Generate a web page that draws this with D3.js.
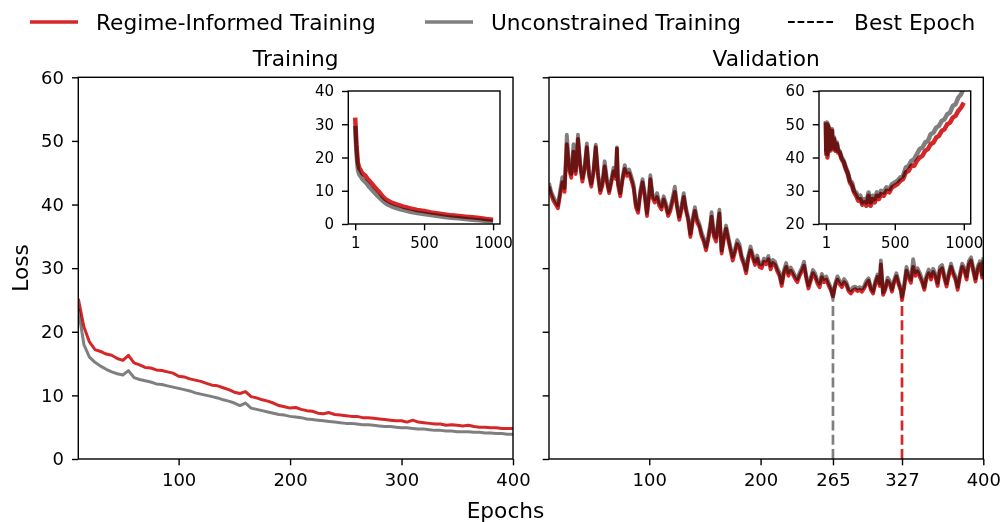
<!DOCTYPE html>
<html><head><meta charset="utf-8">
<script src="https://cdn.jsdelivr.net/npm/d3@7"></script>
<style>
html,body{margin:0;padding:0;background:#fff;}
svg{display:block;font-family:"DejaVu Sans",sans-serif;}
</style></head>
<body>
<svg id="c" width="1001" height="522"></svg>
<script>
// ---------- DATA ----------
const seriesNames = ["Regime-Informed Training", "Unconstrained Training", "Best Epoch"];
const panelTitles = ["Training", "Validation"];
const mainXTicks = [100, 200, 300, 400];
const valXTicks = [100, 200, 265, 327, 400];
const yTicks = [0, 10, 20, 30, 40, 50, 60];
const insetXTicks = [1, 500, 1000];
const insetTrainYTicks = [0, 10, 20, 30, 40];
const insetValYTicks = [20, 30, 40, 50, 60];
const bestEpochRegime = 327;
const bestEpochUncon = 265;

// training losses, epochs 10..400 every 5
const trainEpochs = d3.range(10, 401, 5);
const trainRegime = [25.2, 20.8, 18.4, 17.2, 16.9, 16.5, 16.3, 15.8, 15.5, 16.3,
  15.1, 14.8, 14.4, 14.3, 14.0, 13.9, 13.7, 13.5, 13.0, 12.9,
  12.6, 12.4, 12.2, 11.9, 11.6, 11.5, 11.2, 10.9, 10.5, 10.3,
  10.6, 9.8, 9.6, 9.3, 9.1, 8.8, 8.4, 8.2, 8.0, 8.1,
  7.8, 7.6, 7.5, 7.2, 7.1, 7.3, 7.0, 6.9, 6.8, 6.7,
  6.7, 6.5, 6.5, 6.4, 6.3, 6.2, 6.1, 6.0, 6.0, 5.8,
  6.1, 5.8, 5.7, 5.6, 5.5, 5.5, 5.3, 5.4, 5.3, 5.2,
  5.3, 5.1, 5.0, 5.0, 4.9, 4.9, 4.8, 4.8, 4.8];
const trainUncon = [23.6, 18.0, 16.0, 15.2, 14.6, 14.1, 13.7, 13.4, 13.2, 13.9,
  12.8, 12.5, 12.3, 12.1, 11.8, 11.7, 11.5, 11.3, 11.1, 10.9,
  10.7, 10.4, 10.2, 10.0, 9.8, 9.6, 9.3, 9.1, 8.8, 8.4,
  8.8, 8.0, 7.8, 7.6, 7.4, 7.2, 7.0, 6.9, 6.7, 6.6,
  6.5, 6.3, 6.2, 6.1, 6.0, 5.9, 5.8, 5.7, 5.6, 5.6,
  5.5, 5.4, 5.4, 5.3, 5.2, 5.1, 5.1, 5.0, 4.9, 4.9,
  4.8, 4.7, 4.7, 4.6, 4.5, 4.5, 4.4, 4.4, 4.3, 4.3,
  4.3, 4.2, 4.2, 4.1, 4.1, 4.0, 4.0, 3.9, 3.9];

// validation losses
const valEpochs = [10,12,14,16,18,20,22,24,26,28,30,32,34,36,38,40,42,44,46,48,50,52,54,56,58,60,62,64,66,68,70,71,72,74,76,78,80,82,84,86,88,90,92,94,96,98,100,101,103,105,107,109,111,113,115,117,119,121,123,125,127,129,131,133,135,137,139,141,143,145,147,149,151,153,155,156,158,160,162,163,165,167,169,171,173,175,177,179,181,183,185,187,189,191,193,195,197,199,201,203,205,207,209,211,213,215,217,219,221,223,225,227,229,231,233,235,237,239,241,243,245,247,249,251,253,255,257,259,261,263,265,267,269,271,273,275,277,279,281,283,285,287,289,291,293,295,297,299,301,303,305,307,308,310,312,314,316,318,320,322,324,326,327,329,331,333,335,337,339,341,343,345,347,349,351,353,355,357,359,361,363,365,367,369,371,373,375,377,379,381,383,385,387,389,391,393,395,397,399,400];
const valRegime = [42.8,41.5,40.6,40.0,39.4,41.5,43.5,42.0,49.5,45.5,44.2,48.3,44.8,50.3,46.0,43.6,45.5,49.0,44.5,42.8,45.0,49.0,44.5,41.8,43.0,46.0,43.5,41.8,43.5,45.2,44.0,48.8,43.0,41.3,43.8,45.6,44.5,44.9,43.8,42.5,39.6,38.7,41.6,43.5,41.2,38.2,41.5,44.0,41.0,40.3,41.2,39.8,39.2,40.8,39.6,38.2,39.0,40.5,42.0,39.5,37.6,39.2,41.2,39.0,37.5,34.9,37.2,39.0,37.2,36.5,35.0,34.2,32.8,34.5,36.5,38.1,35.0,34.2,37.0,38.6,32.3,34.5,36.2,34.4,32.8,31.2,32.5,33.8,33.2,31.5,30.6,29.2,31.5,32.8,31.6,30.5,31.5,30.2,30.0,31.0,30.6,31.4,29.8,30.8,30.5,29.5,28.8,27.2,29.2,30.2,28.8,29.6,29.0,28.3,27.8,28.8,29.5,30.4,28.4,26.8,28.0,29.2,28.6,27.6,27.0,28.6,27.8,28.2,27.3,26.6,25.6,27.2,28.2,27.5,27.0,27.8,27.4,26.4,26.0,26.5,26.7,26.4,26.6,26.3,26.8,27.5,28.0,26.6,26.0,27.5,28.6,27.2,30.6,25.8,26.6,28.0,27.5,26.3,27.8,28.7,27.4,26.4,25.0,27.0,29.6,28.5,27.7,30.2,28.8,29.5,28.6,27.8,26.6,28.4,29.2,28.2,29.4,28.6,27.2,29.6,30.0,28.4,27.1,28.8,30.2,29.0,28.2,26.6,28.6,30.2,29.6,28.2,30.6,31.2,29.5,27.9,29.8,30.6,28.5,31.2];
const valUncon = [43.4,42.0,41.2,40.5,39.9,42.2,44.3,42.6,51.0,46.2,44.8,49.5,45.3,51.0,46.5,44.2,46.0,49.6,45.0,43.3,45.5,49.4,45.0,42.3,43.6,46.8,44.0,42.2,44.0,45.8,44.5,49.0,43.5,41.8,44.3,46.2,45.0,45.5,44.4,43.2,40.2,39.2,42.2,44.0,41.8,38.7,42.0,44.6,41.5,40.8,41.8,40.4,39.7,41.3,40.2,38.7,39.6,41.1,42.8,40.0,38.1,39.8,41.8,39.5,38.0,35.4,37.8,39.6,37.8,37.0,35.6,34.7,33.3,35.0,37.2,38.8,35.5,34.8,37.6,39.2,32.8,35.0,36.7,35.0,33.3,31.8,33.0,34.4,33.8,32.0,31.1,29.7,32.0,33.4,32.1,31.0,32.0,30.7,30.6,31.5,31.2,31.9,30.4,31.3,31.0,30.0,29.3,27.7,29.7,30.8,29.3,30.1,29.5,28.8,28.3,29.3,30.0,31.0,28.9,27.3,28.5,29.7,29.2,28.1,27.6,29.1,28.3,28.7,27.8,27.0,25.3,27.6,28.7,28.0,27.5,28.3,27.8,26.8,26.5,27.0,27.1,26.8,27.0,26.8,27.2,28.0,28.4,27.0,26.4,28.0,29.0,27.6,31.2,26.2,27.0,28.5,28.0,26.7,28.2,29.2,27.9,26.8,25.5,27.5,30.2,29.0,28.2,31.4,29.3,30.0,29.2,28.3,27.0,28.9,29.8,28.7,29.9,29.1,27.7,30.2,30.5,28.9,27.6,29.3,30.7,29.5,28.7,27.1,29.1,30.7,30.1,28.7,31.1,31.7,30.0,28.4,30.3,31.1,29.0,31.7];

// inset: full 1000-epoch training run
const insetTrainEpochs = [1,5,10,20,30,40,50,60,75,90,100,120,140,160,180,200,220,240,260,280,300,330,360,400,450,500,550,600,650,700,750,800,850,900,950,1000];
const insetTrainRegime = [32.0,28.5,24.0,18.5,16.8,16.2,15.4,15.0,14.5,13.6,13.2,12.2,11.2,10.3,9.4,8.3,7.5,7.0,6.5,6.2,5.9,5.5,5.1,4.7,4.2,3.9,3.5,3.2,2.9,2.6,2.4,2.2,2.0,1.8,1.5,1.3];
const insetTrainUncon = [29.5,25.5,21.5,16.5,15.0,14.4,13.7,13.2,12.6,11.9,11.3,10.4,9.5,8.6,7.8,7.0,6.3,5.8,5.4,5.1,4.8,4.4,4.1,3.7,3.3,3.0,2.7,2.4,2.1,1.9,1.7,1.5,1.3,1.1,0.9,0.7];

// inset: full 1000-epoch validation run
const insetValEpochs = [1,4,8,12,16,20,25,30,35,40,45,50,60,70,80,90,100,115,130,145,160,175,190,205,220,235,250,265,280,295,310,325,340,355,370,385,400,420,440,460,480,500,520,540,560,580,600,620,640,660,680,700,720,740,760,780,800,820,840,860,880,900,920,940,960,980,1000];
const insetValRegime = [50.5,41.0,50.0,40.0,49.5,42.5,48.5,42.0,47.5,43.5,48.0,42.5,45.5,42.0,44.0,41.5,41.5,39.5,38.5,36.5,35.0,32.5,31.5,29.5,28.5,27.0,27.5,25.8,26.5,25.5,28.5,25.5,27.5,26.5,28.5,27.5,29.0,28.5,30.0,29.5,31.0,31.5,32.0,33.0,33.5,35.5,36.0,37.5,37.5,39.0,40.0,40.5,42.0,42.5,44.0,44.5,46.0,46.5,48.0,48.5,50.0,50.5,52.0,52.5,54.0,55.0,56.5];
const insetValUncon = [51.0,42.0,50.5,41.0,50.0,43.0,49.0,42.5,48.0,44.0,48.5,43.0,46.0,42.5,44.5,42.0,42.0,40.0,39.0,37.0,35.5,33.0,32.5,30.0,29.5,28.0,28.5,26.5,27.5,26.5,29.5,26.5,28.5,27.5,29.5,28.5,30.0,29.5,31.0,30.5,32.0,32.5,33.0,34.0,34.5,37.0,37.5,39.0,39.5,41.0,42.5,43.0,44.5,45.0,47.0,47.5,49.0,49.5,51.0,51.5,53.0,53.5,55.5,56.0,58.0,59.0,61.0];

// ---------- STYLE ----------
const RED = "#d62728", GRAY = "#7f7f7f";
const FONT_BIG = 21.7, FONT_TICK = 18, FONT_INSET = 15;
const SPINE = 1.4, TICKLEN = 6.3;

const svg = d3.select("#c");
svg.append("rect").attr("width", 1001).attr("height", 522).attr("fill", "#fff");

const y = d3.scaleLinear().domain([0, 60]).range([459, 77.3]);
const xL = d3.scaleLinear().domain([10, 400]).range([78.3, 513]);
const xR = d3.scaleLinear().domain([10, 400]).range([549, 983.3]);
const xi1 = d3.scaleLinear().domain([-49, 1050]).range([348.3, 500]);
const yi1 = d3.scaleLinear().domain([0, 40]).range([224, 91]);
const xi2 = d3.scaleLinear().domain([-49, 1050]).range([819, 970.7]);
const yi2 = d3.scaleLinear().domain([20, 60]).range([224, 91]);

let clipId = 0;
function clip(x, yy) {
  const id = "clip" + (clipId++);
  const [x0, x1] = x.range(), [y0, y1] = yy.range();
  svg.append("clipPath").attr("id", id).append("rect")
    .attr("x", x0).attr("y", y1).attr("width", x1 - x0).attr("height", y0 - y1);
  return "url(#" + id + ")";
}

function drawLine(g, xs, ys, x, yy, color, w) {
  const line = d3.line().x((d, i) => x(xs[i])).y(d => yy(d));
  g.append("path").datum(ys).attr("d", line)
    .attr("fill", "none").attr("stroke", color).attr("stroke-width", w)
    .attr("stroke-linejoin", "round").attr("stroke-linecap", "butt")
    .style("mix-blend-mode", "multiply");
}

function frame(x, yy) {
  const [x0, x1] = x.range(), [y0, y1] = yy.range();
  svg.append("rect").attr("x", x0).attr("y", y1).attr("width", x1 - x0).attr("height", y0 - y1)
    .attr("fill", "none").attr("stroke", "#000").attr("stroke-width", SPINE);
}

function styleAxis(g, fs) {
  g.select(".domain").remove();
  g.selectAll(".tick line").attr("stroke", "#000").attr("stroke-width", SPINE);
  g.selectAll(".tick text").attr("fill", "#000").style("font-size", fs + "px")
    .style("font-family", "DejaVu Sans");
}

// ---------- LEFT PANEL (Training) ----------
const gL = svg.append("g").attr("clip-path", clip(xL, y));
drawLine(gL, trainEpochs, trainUncon, xL, y, GRAY, 3);
drawLine(gL, trainEpochs, trainRegime, xL, y, RED, 3);
frame(xL, y);
svg.append("g").attr("transform", "translate(0,459)")
  .call(d3.axisBottom(xL).tickValues(mainXTicks).tickFormat(d3.format("d")).tickSize(TICKLEN).tickPadding(8).tickSizeOuter(0))
  .call(g => styleAxis(g, FONT_TICK));
svg.append("g").attr("transform", "translate(78.3,0)")
  .call(d3.axisLeft(y).tickValues(yTicks).tickFormat(d3.format("d")).tickSize(TICKLEN).tickPadding(8).tickSizeOuter(0))
  .call(g => styleAxis(g, FONT_TICK));

// ---------- RIGHT PANEL (Validation) ----------
const gR = svg.append("g").attr("clip-path", clip(xR, y));
drawLine(gR, valEpochs, valUncon, xR, y, GRAY, 3.8);
drawLine(gR, valEpochs, valRegime, xR, y, RED, 3.8);
// best-epoch markers
const bestU = valUncon[valEpochs.indexOf(bestEpochUncon)];
const bestR = valRegime[valEpochs.indexOf(bestEpochRegime)];
svg.append("line").attr("x1", xR(bestEpochUncon)).attr("x2", xR(bestEpochUncon))
  .attr("y1", y(0)).attr("y2", y(bestU)).attr("stroke", GRAY).attr("stroke-width", 2.7)
  .attr("stroke-dasharray", "10,4.3");
svg.append("line").attr("x1", xR(bestEpochRegime)).attr("x2", xR(bestEpochRegime))
  .attr("y1", y(0)).attr("y2", y(bestR)).attr("stroke", RED).attr("stroke-width", 2.7)
  .attr("stroke-dasharray", "10,4.3");
frame(xR, y);
svg.append("g").attr("transform", "translate(0,459)")
  .call(d3.axisBottom(xR).tickValues(valXTicks).tickFormat(d3.format("d")).tickSize(TICKLEN).tickPadding(8).tickSizeOuter(0))
  .call(g => styleAxis(g, FONT_TICK));
svg.append("g").attr("transform", "translate(549,0)")
  .call(d3.axisLeft(y).tickValues(yTicks).tickSize(TICKLEN).tickFormat("").tickSizeOuter(0))
  .call(g => styleAxis(g, FONT_TICK));

// ---------- INSETS ----------
function inset(x, yy, xs, a, b, yt) {
  svg.append("rect").attr("x", x.range()[0]).attr("y", yy.range()[1])
    .attr("width", x.range()[1] - x.range()[0]).attr("height", yy.range()[0] - yy.range()[1])
    .attr("fill", "#fff");
  const g = svg.append("g").attr("clip-path", clip(x, yy));
  drawLine(g, xs, b, x, yy, GRAY, 4.5);
  drawLine(g, xs, a, x, yy, RED, 4.5);
  frame(x, yy);
  svg.append("g").attr("transform", `translate(0,${yy.range()[0]})`)
    .call(d3.axisBottom(x).tickValues(insetXTicks).tickFormat(d3.format("d")).tickSize(TICKLEN).tickPadding(7).tickSizeOuter(0))
    .call(g2 => styleAxis(g2, FONT_INSET));
  svg.append("g").attr("transform", `translate(${x.range()[0]},0)`)
    .call(d3.axisLeft(yy).tickValues(yt).tickFormat(d3.format("d")).tickSize(TICKLEN).tickPadding(8).tickSizeOuter(0))
    .call(g2 => styleAxis(g2, FONT_INSET));
}
inset(xi1, yi1, insetTrainEpochs, insetTrainRegime, insetTrainUncon, insetTrainYTicks);
inset(xi2, yi2, insetValEpochs, insetValRegime, insetValUncon, insetValYTicks);

// ---------- TEXT ----------
const txt = (x, yy, s, anchor) => svg.append("text").attr("x", x).attr("y", yy)
  .attr("text-anchor", anchor || "middle").style("font-size", FONT_BIG + "px").attr("fill", "#000").text(s);
txt((78.3 + 513) / 2, 66, panelTitles[0]);
txt((549 + 983.3) / 2, 66, panelTitles[1]);
txt(505.5, 518, "Epochs");
svg.append("text").attr("transform", "translate(28,268) rotate(-90)")
  .attr("text-anchor", "middle").style("font-size", FONT_BIG + "px").text("Loss");

// ---------- LEGEND ----------
const legend = [
  {x: 30, color: RED, w: 3.6, dash: null, label: seriesNames[0]},
  {x: 425, color: GRAY, w: 3.6, dash: null, label: seriesNames[1]},
  {x: 788, color: "#000", w: 1.8, dash: "6.7,2.9", label: seriesNames[2]}
];
legend.forEach(d => {
  svg.append("line").attr("x1", d.x).attr("x2", d.x + 48).attr("y1", 22).attr("y2", 22)
    .attr("stroke", d.color).attr("stroke-width", d.w).attr("stroke-dasharray", d.dash);
  svg.append("text").attr("x", d.x + 66).attr("y", 22).attr("dy", "0.36em")
    .style("font-size", FONT_BIG + "px").text(d.label);
});
</script>
</body></html>
